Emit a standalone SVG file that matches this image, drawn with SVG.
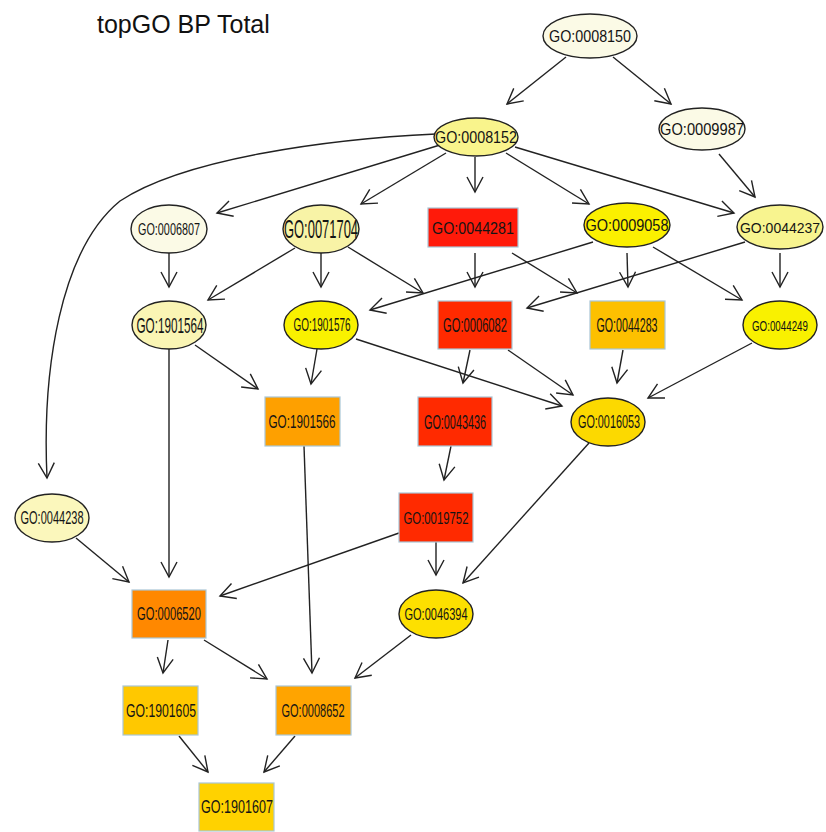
<svg xmlns="http://www.w3.org/2000/svg" width="826" height="832" viewBox="0 0 826 832">
<style>
.bg{fill:#ffffff}
.e{stroke:#222;stroke-width:1.4}
.r{stroke:#a9c6d6;stroke-width:1.2}
.t{font-family:"Liberation Sans",Arial,sans-serif;fill:#141414;text-anchor:middle}
.c path,.c line{fill:none;stroke:#222;stroke-width:1.4;marker-end:url(#ah)}
.title{font-family:"Liberation Sans",Arial,sans-serif;font-size:25px;fill:#111}
</style>
<defs>
<marker id="ah" markerUnits="userSpaceOnUse" markerWidth="40" markerHeight="40" viewBox="-20 -20 40 40" refX="0" refY="0" orient="auto">
<path d="M-15,-8 L0,0 L-15,8" fill="none" stroke="#222" stroke-width="1.4"/>
</marker>
</defs>
<rect class="bg" x="0" y="0" width="826" height="832"/>
<text class="title" x="97" y="33">topGO BP Total</text>

<g id="connectors" class="c">
<line x1="566" y1="57" x2="507" y2="104"/>
<line x1="613" y1="57" x2="671" y2="104"/>
<line x1="719" y1="154" x2="755" y2="197"/>
<line x1="475" y1="157" x2="475" y2="192"/>
<line x1="506" y1="153" x2="589" y2="204"/>
<line x1="515" y1="147" x2="734" y2="213"/>
<line x1="440" y1="145" x2="217" y2="213"/>
<line x1="446" y1="153" x2="361" y2="204"/>
<path d="M436,134 C330,139 185,158 120,201 C60,250 42,370 47,478"/>
<line x1="169" y1="253" x2="169" y2="287"/>
<line x1="295" y1="248" x2="208" y2="300"/>
<line x1="321" y1="253" x2="321" y2="287"/>
<line x1="348" y1="247" x2="423" y2="293"/>
<line x1="475" y1="253" x2="475" y2="287"/>
<line x1="512" y1="253" x2="577" y2="293"/>
<line x1="593" y1="242" x2="370" y2="310"/>
<line x1="627" y1="253" x2="628" y2="287"/>
<line x1="653" y1="247" x2="742" y2="300"/>
<line x1="745" y1="242" x2="527" y2="308"/>
<line x1="780" y1="253" x2="780" y2="287"/>
<line x1="195" y1="345" x2="258" y2="389"/>
<line x1="169" y1="349" x2="169" y2="577"/>
<line x1="317" y1="349" x2="311" y2="384"/>
<line x1="356" y1="339" x2="562" y2="406"/>
<line x1="470" y1="350" x2="463" y2="383"/>
<line x1="508" y1="350" x2="573" y2="395"/>
<line x1="623" y1="350" x2="617" y2="383"/>
<line x1="752" y1="343" x2="648" y2="398"/>
<line x1="304" y1="446" x2="312" y2="673"/>
<line x1="451" y1="446" x2="444" y2="480"/>
<line x1="589" y1="443" x2="463" y2="583"/>
<line x1="399" y1="533" x2="220" y2="596"/>
<line x1="436" y1="542" x2="436" y2="575"/>
<line x1="76" y1="538" x2="129" y2="582"/>
<line x1="168" y1="640" x2="163" y2="673"/>
<line x1="204" y1="640" x2="267" y2="679"/>
<line x1="411" y1="635" x2="355" y2="678"/>
<line x1="179" y1="736" x2="208" y2="772"/>
<line x1="295" y1="736" x2="264" y2="772"/>
</g>

<g id="GO0008150"><ellipse class="e" cx="590" cy="36" rx="47" ry="22" fill="#fbfae6"/><text class="t" x="590" y="42" font-size="17" textLength="82" lengthAdjust="spacingAndGlyphs">GO:0008150</text></g>
<g id="GO0008152"><ellipse class="e" cx="476" cy="137" rx="42" ry="19" fill="#f9f48c"/><text class="t" x="476" y="143" font-size="17" textLength="82" lengthAdjust="spacingAndGlyphs">GO:0008152</text></g>
<g id="GO0009987"><ellipse class="e" cx="702" cy="129" rx="43" ry="21" fill="#fbfae6"/><text class="t" x="702" y="135" font-size="17" textLength="84" lengthAdjust="spacingAndGlyphs">GO:0009987</text></g>
<g id="GO0006807"><ellipse class="e" cx="169" cy="229" rx="38" ry="24" fill="#fbfae6"/><text class="t" x="169" y="235" font-size="17" textLength="62" lengthAdjust="spacingAndGlyphs">GO:0006807</text></g>
<g id="GO0071704"><ellipse class="e" cx="321" cy="229" rx="38" ry="24" fill="#f8f3a6"/><text class="t" x="321" y="238" font-size="26" textLength="74" lengthAdjust="spacingAndGlyphs">GO:0071704</text></g>
<g id="GO0044281"><rect class="r" x="428" y="208" width="90" height="39" fill="#ff1a0a"/><text class="t" x="473" y="234" font-size="17" textLength="82" lengthAdjust="spacingAndGlyphs">GO:0044281</text></g>
<g id="GO0009058"><ellipse class="e" cx="627" cy="225" rx="43" ry="22" fill="#fbf000"/><text class="t" x="627" y="231" font-size="17" textLength="83" lengthAdjust="spacingAndGlyphs">GO:0009058</text></g>
<g id="GO0044237"><ellipse class="e" cx="780" cy="227" rx="43" ry="22" fill="#f8f48f"/><text class="t" x="780" y="233" font-size="15.5" textLength="80" lengthAdjust="spacingAndGlyphs">GO:0044237</text></g>
<g id="GO1901564"><ellipse class="e" cx="169" cy="325" rx="37" ry="24" fill="#faf5b4"/><text class="t" x="170" y="333" font-size="22" textLength="67" lengthAdjust="spacingAndGlyphs">GO:1901564</text></g>
<g id="GO1901576"><ellipse class="e" cx="321" cy="325" rx="37" ry="24" fill="#f9f100"/><text class="t" x="322" y="331" font-size="18" textLength="57" lengthAdjust="spacingAndGlyphs">GO:1901576</text></g>
<g id="GO0006082"><rect class="r" x="438" y="301" width="74" height="48" fill="#ff2a00"/><text class="t" x="475" y="332" font-size="21" textLength="64" lengthAdjust="spacingAndGlyphs">GO:0006082</text></g>
<g id="GO0044283"><rect class="r" x="590" y="301" width="75" height="48" fill="#fdc000"/><text class="t" x="627" y="332" font-size="21" textLength="61" lengthAdjust="spacingAndGlyphs">GO:0044283</text></g>
<g id="GO0044249"><ellipse class="e" cx="780" cy="325" rx="37" ry="24" fill="#f9f100"/><text class="t" x="780" y="331" font-size="15.5" textLength="56" lengthAdjust="spacingAndGlyphs">GO:0044249</text></g>
<g id="GO1901566"><rect class="r" x="265" y="397" width="75" height="49" fill="#fea000"/><text class="t" x="302" y="428" font-size="18" textLength="67" lengthAdjust="spacingAndGlyphs">GO:1901566</text></g>
<g id="GO0043436"><rect class="r" x="418" y="397" width="74" height="49" fill="#ff2a00"/><text class="t" x="455" y="429" font-size="21" textLength="62" lengthAdjust="spacingAndGlyphs">GO:0043436</text></g>
<g id="GO0016053"><ellipse class="e" cx="608" cy="422" rx="37" ry="24" fill="#fcd900"/><text class="t" x="609" y="428" font-size="18" textLength="62" lengthAdjust="spacingAndGlyphs">GO:0016053</text></g>
<g id="GO0044238"><ellipse class="e" cx="52" cy="518" rx="37" ry="24" fill="#fbf7bc"/><text class="t" x="52" y="524" font-size="18" textLength="63" lengthAdjust="spacingAndGlyphs">GO:0044238</text></g>
<g id="GO0019752"><rect class="r" x="399" y="493" width="74" height="49" fill="#ff2a00"/><text class="t" x="436" y="524" font-size="17" textLength="65" lengthAdjust="spacingAndGlyphs">GO:0019752</text></g>
<g id="GO0006520"><rect class="r" x="132" y="590" width="74" height="48" fill="#ff8800"/><text class="t" x="169" y="620" font-size="18" textLength="64" lengthAdjust="spacingAndGlyphs">GO:0006520</text></g>
<g id="GO0046394"><ellipse class="e" cx="436" cy="614" rx="37" ry="24" fill="#fde000"/><text class="t" x="436" y="620" font-size="17" textLength="63" lengthAdjust="spacingAndGlyphs">GO:0046394</text></g>
<g id="GO1901605"><rect class="r" x="123" y="686" width="75" height="49" fill="#ffc800"/><text class="t" x="161" y="717" font-size="19" textLength="70" lengthAdjust="spacingAndGlyphs">GO:1901605</text></g>
<g id="GO0008652"><rect class="r" x="276" y="686" width="75" height="49" fill="#ffa400"/><text class="t" x="313" y="717" font-size="19" textLength="63" lengthAdjust="spacingAndGlyphs">GO:0008652</text></g>
<g id="GO1901607"><rect class="r" x="199" y="783" width="75" height="48" fill="#ffd200"/><text class="t" x="237" y="813" font-size="18" textLength="72" lengthAdjust="spacingAndGlyphs">GO:1901607</text></g>
</svg>
